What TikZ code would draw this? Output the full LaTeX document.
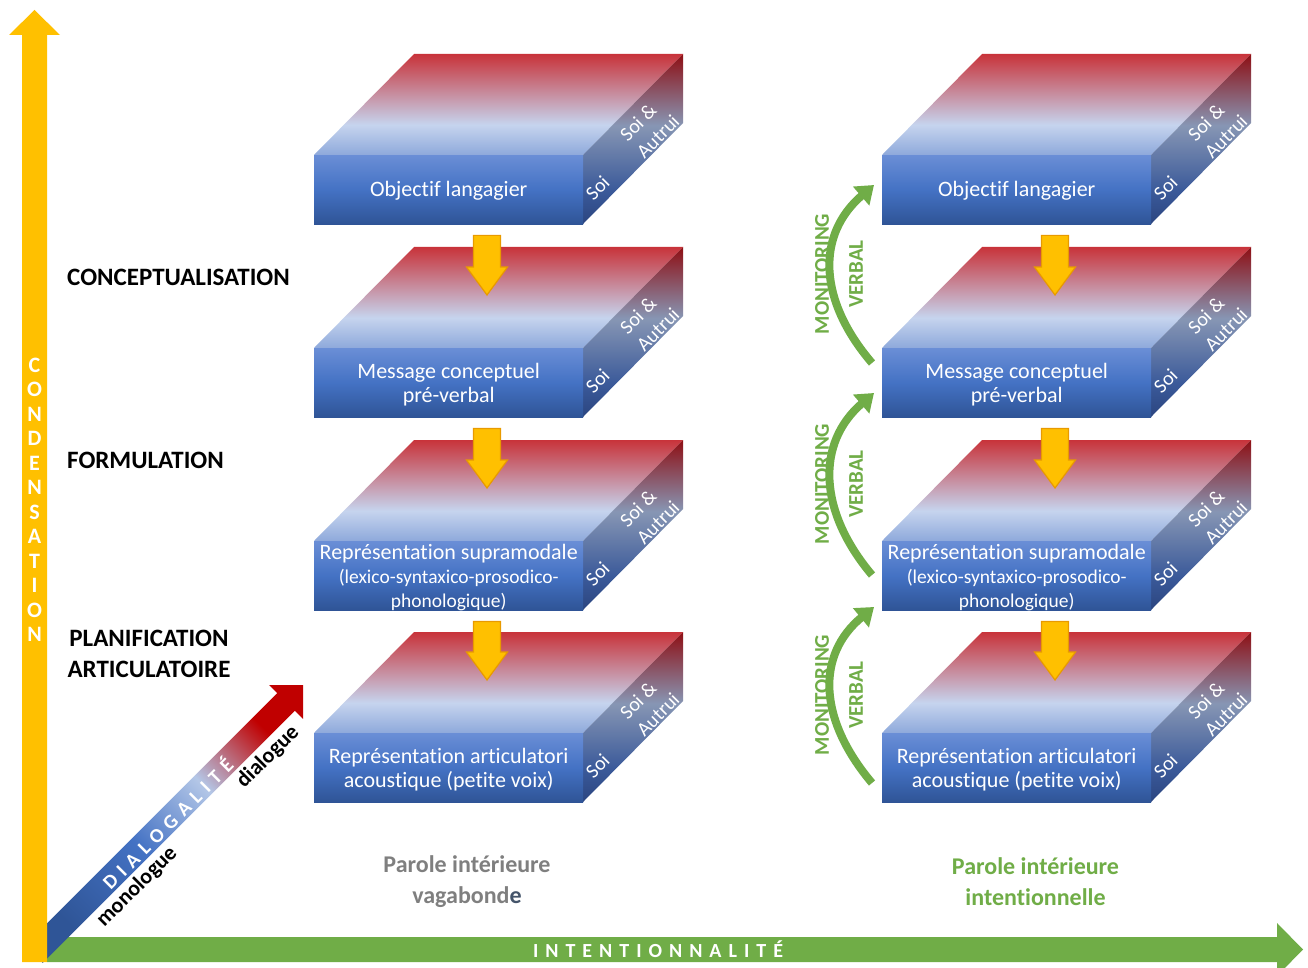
\documentclass[tikz,border=0pt]{standalone}
\usepackage{fontspec}
\setmainfont{Carlito}[Ligatures={NoCommon}]
\usetikzlibrary{calc,arrows.meta}

\definecolor{tfRed}{HTML}{C8333A}
\definecolor{tfLight}{HTML}{C6D4EE}
\definecolor{tfFront}{HTML}{8EA9DB}
\definecolor{ffTop}{HTML}{6A8ED6}
\definecolor{ffMid}{HTML}{4472C4}
\definecolor{ffBot}{HTML}{2F5496}
\definecolor{sfTop}{HTML}{8E0F14}
\definecolor{sfGray}{HTML}{8796B4}
\definecolor{sfBlue}{HTML}{3B5A9A}
\definecolor{sfBot}{HTML}{2B4580}
\definecolor{yel}{HTML}{FFC000}
\definecolor{yelEdge}{HTML}{E89A00}
\definecolor{grn}{HTML}{70AD47}
\definecolor{dBlue}{HTML}{2F5597}
\definecolor{lBlue}{HTML}{B4C7E7}
\definecolor{dRed}{HTML}{C00000}
\definecolor{grayseven}{HTML}{7F7F7F}
\definecolor{slate}{HTML}{44546A}

\pgfdeclareverticalshading{topsh}{100bp}{color(0bp)=(tfFront); color(25bp)=(tfFront); color(40bp)=(tfLight); color(75bp)=(tfRed); color(100bp)=(tfRed)}
\pgfdeclareverticalshading{sidesh}{100bp}{color(0bp)=(sfBot); color(25bp)=(sfBot); color(35bp)=(sfBlue); color(54bp)=(sfGray); color(75bp)=(sfTop); color(100bp)=(sfTop)}
\pgfdeclareverticalshading{diagsh}{100bp}{color(0bp)=(dBlue); color(25bp)=(dBlue); color(44bp)=(ffMid); color(60bp)=(lBlue); color(75bp)=(dRed); color(100bp)=(dRed)}

\tikzset{
  frontface/.style={rectangle, minimum width=269pt, minimum height=69pt, inner sep=0pt,
    top color=ffTop, bottom color=ffBot, middle color=ffMid},
  boxtxt/.style={text=white, align=center, font=\fontsize{22}{24}\selectfont, inner sep=0pt},
  sidetxt/.style={text=white, rotate=45, font=\fontsize{20}{24}\selectfont, inner sep=0pt},
  stagelbl/.style={font=\bfseries\fontsize{25}{31}\selectfont, inner sep=0pt},
  yarrow/.style={fill=yel, draw=yelEdge, line width=1.2pt, line join=miter},
  monarrow/.style={draw=grn, line width=8pt, -{Triangle[width=24pt,length=17pt]}},
  montxt/.style={text=grn, font=\bfseries\fontsize{21}{24}\selectfont, rotate=90, inner sep=0pt},
  bottomlbl/.style={font=\bfseries\fontsize{24}{31}\selectfont, align=center, inner sep=0pt},
  diaglbl/.style={rotate=45, inner sep=0pt, font=\bfseries\fontsize{22}{24}\selectfont},
}

\newcommand{\smallf}{\fontsize{19.5}{21}\selectfont}
\newcommand{\lsp}{\kern7pt}
\newcommand{\dsp}{\kern6.5pt}

% #1 name, #2 x, #3 y (front top-left), #4 text
\newcommand{\stagebox}[4]{%
  \shade[shading=topsh] (#2,#3) -- ++(100,-101) -- ++(269,0) -- ++(-100,101) -- cycle;
  \shade[shading=sidesh] (#2+269,#3) -- ++(100,-101) -- ++(0,69) -- ++(-100,101) -- cycle;
  \node[frontface, anchor=north west] (#1) at (#2,#3) {};
  \node[boxtxt] (#1t) at ($(#1.center)+(0,1.5)$) {#4};
  \node[sidetxt] (#1s) at ($(#1.north east)+(14,33)$) {Soi};
  \node[sidetxt, align=left] (#1a) at ($(#1.north east)+(66,-27)$) {Soi \&\\Autrui};
}

% yellow block arrow from node #1 to node #2
\newcommand{\yarr}[2]{%
  \coordinate (ys) at ($(#1.south west)+(173,11)$);
  \coordinate (ye) at ($(#2.north west)+(173,-53)$);
  \filldraw[yarrow] ($(ys)+(-13.5,0)$) -- ($(ys)+(13.5,0)$) -- ($(ye)+(13.5,-28)$)
    -- ($(ye)+(20.5,-28)$) -- (ye) -- ($(ye)+(-20.5,-28)$) -- ($(ye)+(-13.5,-28)$) -- cycle;
}

\begin{document}
\begin{tikzpicture}[x=1pt,y=-1pt]
\useasboundingbox (0,0) rectangle (1308,968);
\fill[white] (0,0) rectangle (1308,968);

% green horizontal axis
\fill[grn] (47,937) -- (1277,937) -- (1277,923) -- (1303,949.5) -- (1277,976) -- (1277,962) -- (47,962) -- cycle;

% diagonal dialogality arrow
\shade[shading=diagsh, shading angle=-45]
  (25.16,945.16) -- (277.19,693.13) -- (269.06,685.0) -- (303,685) -- (303.0,718.94)
  -- (294.87,710.81) -- (42.84,962.84) -- cycle;

% yellow vertical axis
\fill[yel] (22,962) -- (22,35) -- (9,35) -- (34.5,10) -- (60,35) -- (47,35) -- (47,962) -- cycle;

% axis texts
\node[text=white, align=center, inner sep=0pt, font=\bfseries\fontsize{22}{24.5}\selectfont] (cond) at (34.5,500)
  {C\\O\\N\\D\\E\\N\\S\\A\\T\\I\\O\\N};
\node[text=white, inner sep=0pt, font=\bfseries\fontsize{20}{24}\selectfont] (intent) at (658,949.5)
  {I\lsp N\lsp T\lsp E\lsp N\lsp T\lsp I\lsp O\lsp N\lsp N\lsp A\lsp L\lsp I\lsp T\lsp É};
\node[text=white, rotate=45, inner sep=0pt, font=\bfseries\fontsize{20}{24}\selectfont] (dialog) at (167,823)
  {D\dsp I\dsp A\dsp L\dsp O\dsp G\dsp A\dsp L\dsp I\dsp T\dsp É};
\node[diaglbl] (mono) at (137,887) {monologue};
\node[diaglbl] (dia) at (268,757) {dialogue};

% stage labels
\node[stagelbl, anchor=west] (conc) at (67,277) {CONCEPTUALISATION};
\node[stagelbl, anchor=west] (form) at (67,460) {FORMULATION};
\node[stagelbl, align=center] (plan) at (149,653.5) {PLANIFICATION\\ARTICULATOIRE};

% left column
\stagebox{L1}{314}{155}{Objectif langagier}
\stagebox{L2}{314}{348}{Message conceptuel\\pré-verbal}
\stagebox{L3}{314}{541}{Représentation supramodale\\\smallf(lexico-syntaxico-prosodico-\\\smallf phonologique)}
\stagebox{L4}{314}{733}{Représentation articulatori\\acoustique (petite voix)}

% right column
\stagebox{R1}{882}{155}{Objectif langagier}
\stagebox{R2}{882}{348}{Message conceptuel\\pré-verbal}
\stagebox{R3}{882}{541}{Représentation supramodale\\\smallf(lexico-syntaxico-prosodico-\\\smallf phonologique)}
\stagebox{R4}{882}{733}{Représentation articulatori\\acoustique (petite voix)}

% yellow arrows
\yarr{L1}{L2}
\yarr{L2}{L3}
\yarr{L3}{L4}
\yarr{R1}{R2}
\yarr{R2}{R3}
\yarr{R3}{R4}

% monitoring arrows
\draw[monarrow] ($(R2.north west)+(-10,15)$) .. controls ($(R2.north west)+(-64,-48)$) and ($(R1.north west)+(-66,80)$) .. ($(R1.north west)+(-8,30)$);
\draw[monarrow] ($(R3.north west)+(-10,34)$) .. controls ($(R3.north west)+(-64,-30)$) and ($(R2.north west)+(-66,95)$) .. ($(R2.north west)+(-8,45)$);
\draw[monarrow] ($(R4.north west)+(-10,50)$) .. controls ($(R4.north west)+(-64,-14)$) and ($(R3.north west)+(-66,114)$) .. ($(R3.north west)+(-8,66)$);

\node[montxt] (m1a) at (822,274) {MONITORING};
\node[montxt] (m1b) at (856,274) {VERBAL};
\node[montxt] (m2a) at (822,484) {MONITORING};
\node[montxt] (m2b) at (856,484) {VERBAL};
\node[montxt] (m3a) at (822,695) {MONITORING};
\node[montxt] (m3b) at (856,695) {VERBAL};

% bottom labels
\node[bottomlbl, text=grayseven] (vag) at (467,881.5) {Parole intérieure\\vagabond\textcolor{slate}{e}};
\node[bottomlbl, text=grn] (int) at (1035.5,881.5) {Parole intérieure\\intentionnelle};
\end{tikzpicture}
\end{document}
